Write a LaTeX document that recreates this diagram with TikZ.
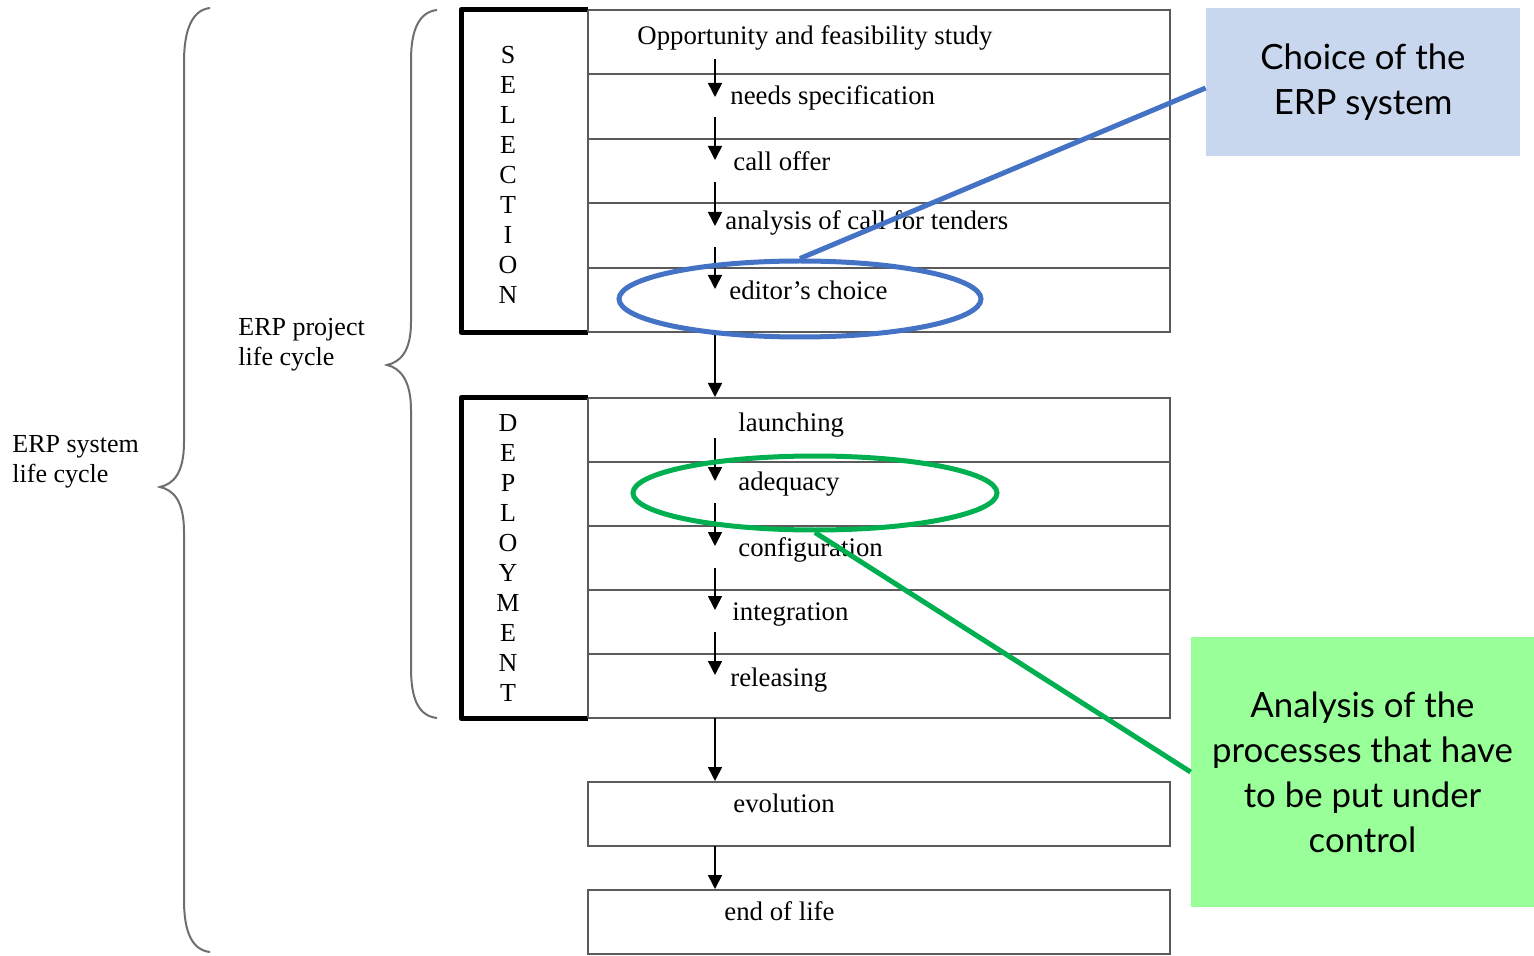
\documentclass[tikz,border=0pt]{standalone}
\usepackage{fontspec}
\setmainfont{Liberation Serif}
\newfontfamily\calloutfont{Lato}
\usetikzlibrary{arrows.meta,shapes.geometric,calc}
\definecolor{rowgray}{HTML}{5A5A5A}
\definecolor{bracegray}{HTML}{6E6E6E}
\definecolor{calloutblue}{HTML}{C8D6EE}
\definecolor{lineblue}{HTML}{4472C4}
\definecolor{calloutgreen}{HTML}{99FF99}
\definecolor{linegreen}{HTML}{00B050}
\begin{document}
\begin{tikzpicture}[x=0.5pt,y=-0.5pt,
  rowbox/.style={draw=rowgray, line width=1pt, minimum width=291pt, minimum height=32.2pt, inner sep=0pt},
  phasebox/.style={draw=none, minimum width=63pt, inner sep=0pt},
  frameline/.style={line width=2.8pt, line join=round},
  steptext/.style={anchor=base west, inner sep=0pt, font=\fontsize{13.4}{15}\selectfont},
  vletters/.style={align=center, inner sep=0pt, font=\fontsize{13}{15}\selectfont},
  sidetext/.style={anchor=north west, align=left, inner sep=0pt, font=\fontsize{13}{15}\selectfont},
  flow/.style={-{Triangle[width=7pt,length=7pt]}, line width=0.8pt},
  bracepath/.style={draw=bracegray, line width=1pt},
  callout/.style={inner sep=0pt, align=center, font=\calloutfont\fontsize{17.4}{22.5}\selectfont},
  ring/.style={ellipse, draw, line width=2.5pt, inner sep=0pt}]
\useasboundingbox (0,0) rectangle (1534,956);
\fill[white] (0,0) rectangle (1534,956);

% selection phase rows
\foreach \i/\yc in {1/42.2,2/106.6,3/171,4/235.4,5/299.8}
  \node[rowbox] (s\i) at (879,\yc) {};
% deployment phase rows
\foreach \i/\yc in {1/430,2/494,3/558,4/622,5/686}
  \node[rowbox] (d\i) at (879,\yc) {};
% after-project stages
\node[rowbox] (evo) at (879,814) {};
\node[rowbox] (eol) at (879,922) {};

% phase label boxes, heavy frame on three sides
\node[phasebox, minimum height=161pt] (sel) at (525,171) {};
\node[phasebox, minimum height=160pt] (dep) at (525,558) {};
\draw[frameline] (sel.north east) -- (sel.north west) -- (sel.south west) -- (sel.south east);
\draw[frameline] (dep.north east) -- (dep.north west) -- (dep.south west) -- (dep.south east);
\draw[rowgray, line width=1pt] (sel.north east) -- (sel.south east);
\draw[rowgray, line width=1pt] (dep.north east) -- (dep.south east);
\node[vletters] (selword) at (508,175) {S\\E\\L\\E\\C\\T\\I\\O\\N};
\node[vletters] (depword) at (508,558) {D\\E\\P\\L\\O\\Y\\M\\E\\N\\T};

% step labels
\node[steptext] (t1) at (637,45) {Opportunity and feasibility study};
\node[steptext] (t2) at (730,105) {needs specification};
\node[steptext] (t3) at (733,171) {call offer};
\node[steptext] (t4) at (725,230) {analysis of call for tenders};
\node[steptext] (t5) at (729,300) {editor's choice};
\node[steptext] (t6) at (738,431) {launching};
\node[steptext] (t7) at (738,490) {adequacy};
\node[steptext] (t8) at (738,556) {configuration};
\node[steptext] (t9) at (732,620) {integration};
\node[steptext] (t10) at (730,686) {releasing};
\node[steptext] (t11) at (733,812) {evolution};
\node[steptext] (t12) at (724,920) {end of life};

% flow arrows
\foreach \n/\ys/\ye in {1/59/97,2/117/160,3/182/226,4/247/289,5/332/397,
                        6/438/481,7/503/546,8/568/610,9/632/675,10/718/781,11/846/889} {
  \coordinate (f\n s) at (715,\ys);
  \coordinate (f\n e) at (715,\ye);
  \draw[flow] (f\n s) -- (f\n e);
}

% braces
\draw[bracepath] (437,10) .. controls (419,12) and (411,30) .. (411,60) -- (411,322)
  .. controls (411,352) and (400,362) .. (387,365)
  .. controls (400,368) and (411,380) .. (411,410) -- (411,668)
  .. controls (411,700) and (419,716) .. (437,718);
\draw[bracepath] (210,8) .. controls (192,10) and (184,30) .. (184,62) -- (184,442)
  .. controls (184,474) and (173,484) .. (160,487)
  .. controls (173,490) and (184,500) .. (184,532) -- (184,900)
  .. controls (184,932) and (192,950) .. (210,952);
\node[sidetext] (proj) at (238,318) {ERP project\\life cycle};
\node[sidetext] (sys) at (12,435) {ERP system\\life cycle};

% callouts
\node[callout, fill=calloutblue, minimum width=157pt, minimum height=74pt] (cbox) at (1363,82)
  {Choice of the\\ERP system};
\node[callout, fill=calloutgreen, minimum width=171.5pt, minimum height=135pt] (gbox) at (1362.5,772)
  {Analysis of the\\processes that have\\to be put under\\control};
\node[ring, draw=lineblue, minimum width=181pt, minimum height=38pt] (bring) at (800,299) {};
\node[ring, draw=linegreen, minimum width=182pt, minimum height=37pt] (gring) at (815,493) {};
\draw[lineblue, line width=2.5pt] (bring.north) -- ([yshift=-3pt]cbox.west);
\draw[linegreen, line width=2.5pt] (gring.south) -- (gbox.west);
\end{tikzpicture}
\end{document}
